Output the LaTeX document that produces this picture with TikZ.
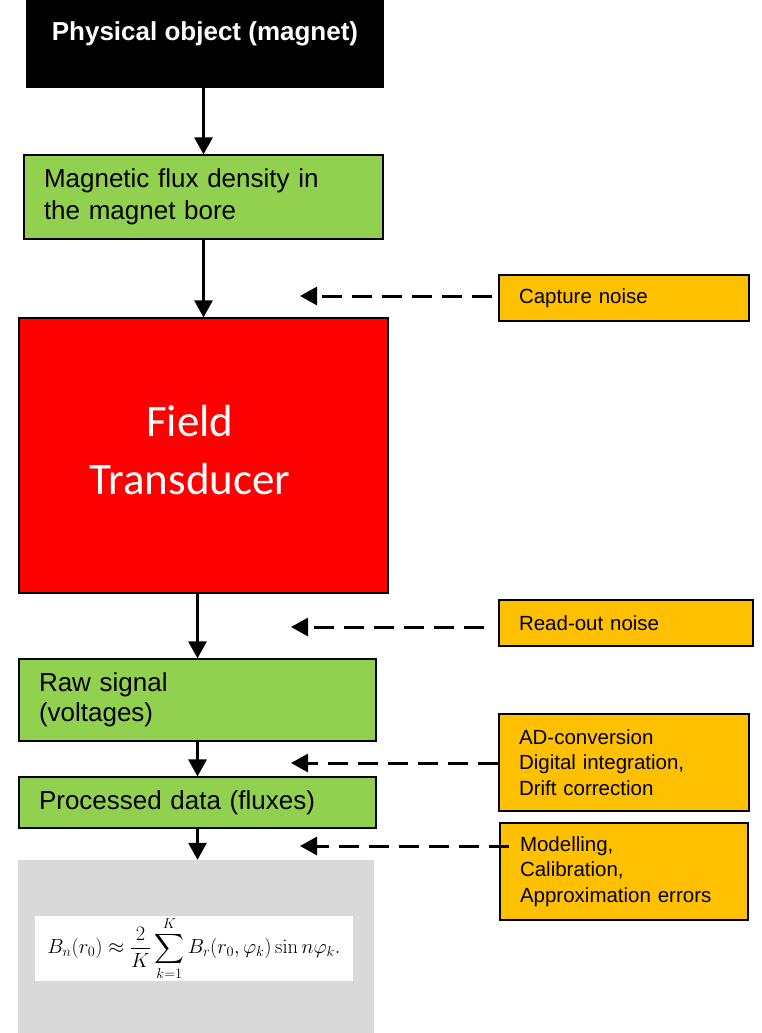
\RequirePackage{fix-cm}
\documentclass[tikz,border=0pt]{standalone}
\usepackage{amsmath}
\usepackage[no-math]{fontspec}
\setmainfont{Liberation Sans}
\newfontfamily\calibri{Carlito}
\usetikzlibrary{arrows.meta, positioning}
\definecolor{boxgreen}{HTML}{92D050}
\definecolor{boxorange}{HTML}{FFC000}
\definecolor{boxgray}{HTML}{D9D9D9}

\begin{document}
\begin{tikzpicture}[
x=1pt, y=-1pt,
>={Triangle[length=17pt,width=18pt]},
stage/.style={draw=black, line width=1.2pt, fill=boxgreen, align=left, inner xsep=20pt, font=\fontsize{26}{32}\selectfont},
cause/.style={draw=black, line width=1.5pt, fill=boxorange, align=left, inner xsep=20pt, font=\fontsize{20.5}{25.5}\selectfont},
flow/.style={->, line width=3pt},
noise/.style={->, line width=3pt, dash pattern=on 20pt off 10pt},
]
\useasboundingbox (0,0) rectangle (761,1033);

%% measurement chain
% nodes
\node[fill=black, text=white, font=\bfseries\fontsize{26}{30}\selectfont, minimum width=358pt, minimum height=88pt, text height=19pt, text depth=25pt] (obj) at (205,44) {Physical object (magnet)};
\node[stage, text width=319pt, minimum height=84pt] (flux) at (203.5,197) {Magnetic flux density in\\the magnet bore};
\node[draw=black, line width=1.2pt, fill=red, minimum width=369pt, minimum height=275pt] (trans) at (203.5,455.5) {};
\node[text=white, align=center, font=\calibri\fontsize{45}{58}\selectfont] (transT) at (190,450) {Field\\Transducer};
\node[stage, text width=317pt, minimum height=82pt, font=\fontsize{26}{30}\selectfont] (raw) at (197.5,700) {Raw signal\\(voltages)};
\node[stage, text width=317pt, minimum height=51pt] (proc) at (197.5,802.5) {Processed data (fluxes)};
\node[fill=boxgray, minimum width=356pt, minimum height=173pt] (coef) at (196,946.5) {};
\node[fill=white, inner ysep=0pt, minimum width=318pt, minimum height=63pt, font=\fontsize{20.5}{24}\selectfont] (eq) at (194,948.5) {$\displaystyle B_n(r_0)\approx\frac{2}{K}\sum_{k=1}^{K}B_r(r_0,\varphi_k)\sin n\varphi_k.$};
% arrows
\draw[flow] (obj.south -| flux.north) -- (flux.north);
\draw[flow] (flux.south) -- (trans.north);
\draw[flow] (trans.south -| raw.north) -- (raw.north);
\draw[flow] (raw.south) -- (proc.north);
\draw[flow] (proc.south) -- (proc.south |- coef.north);

%% error sources
% nodes
\node[cause, text width=210pt, minimum height=46pt] (capt) at (624,298) {Capture noise};
\node[cause, text width=214pt, minimum height=46pt] (read) at (626,623) {Read-out noise};
\node[cause, text width=210pt, minimum height=97pt] (adc) at (624,762.5) {AD-conversion\\Digital integration,\\Drift correction};
\node[cause, text width=208pt, minimum height=97pt] (model) at (624,871.5) {Modelling,\\Calibration,\\Approximation errors};
\coordinate (captT) at (300,296);
\coordinate (readT) at (291,627);
\coordinate (adcT) at (291,763);
\coordinate (modelT) at (300,846);
% arrows
\draw[noise] ([xshift=-6pt]capt.west |- captT) -- (captT);
\draw[noise] ([xshift=-14pt]read.west |- readT) -- (readT);
\draw[noise] (adc.west |- adcT) -- (adcT);
\draw[noise] ([xshift=10pt]model.west |- modelT) -- (modelT);
\end{tikzpicture}
\end{document}
